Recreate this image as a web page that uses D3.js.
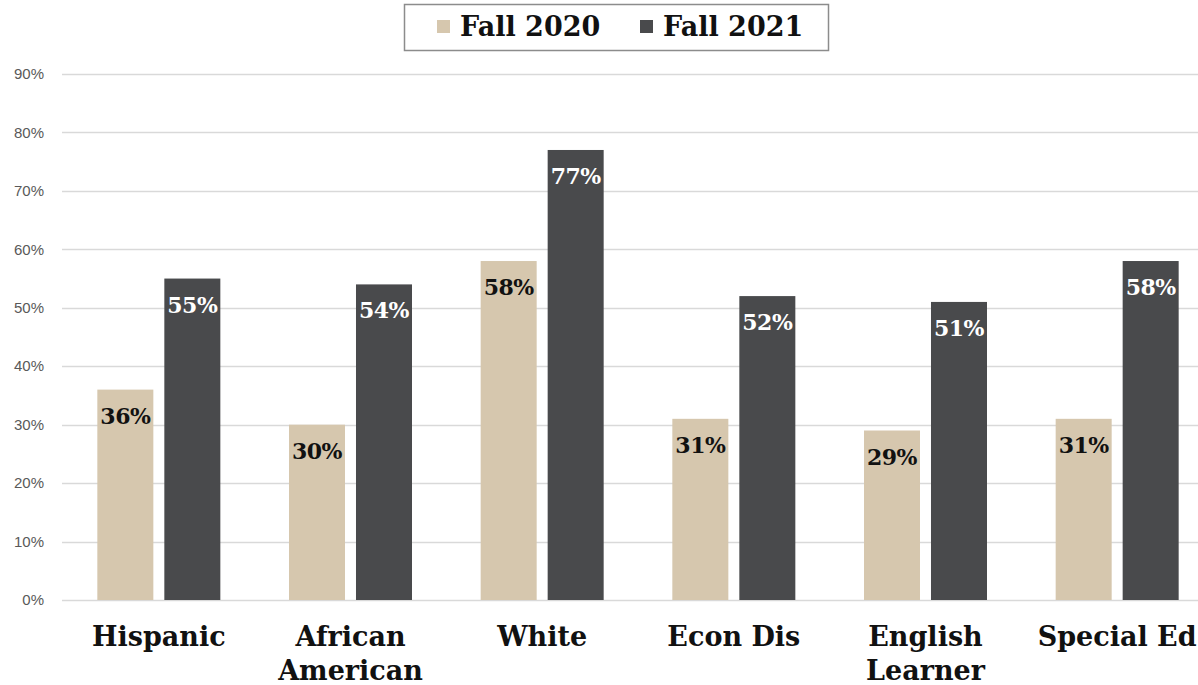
<!DOCTYPE html>
<html>
<head>
<meta charset="utf-8">
<script src="https://cdn.jsdelivr.net/npm/d3@7"></script>
<style>
  body { margin: 0; background: #fff; }
  svg { display: block; }
</style>
</head>
<body>
<svg id="chart" width="1198" height="685"></svg>
<script>
// data
const categories = ["Hispanic", "African American", "White", "Econ Dis", "English Learner", "Special Ed"];
const categoryLines = [["Hispanic"], ["African", "American"], ["White"], ["Econ Dis"], ["English", "Learner"], ["Special Ed"]];
const series = ["Fall 2020", "Fall 2021"];
const fall2020 = [36, 30, 58, 31, 29, 31];
const fall2021 = [55, 54, 77, 52, 51, 58];
const yTicks = [0, 10, 20, 30, 40, 50, 60, 70, 80, 90];

const colors = { "Fall 2020": "#d6c7ae", "Fall 2021": "#494a4c" };
const labelColors = { "Fall 2020": "#111", "Fall 2021": "#fff" };
const serif = "'DejaVu Serif', Georgia, serif";

const svg = d3.select("#chart");

const x0 = d3.scaleBand()
  .domain(categories)
  .range([63, 1213]);

const x1 = d3.scaleBand()
  .domain(series)
  .range([0, 123])
  .paddingInner(0.164);

const y = d3.scaleLinear()
  .domain([0, 90])
  .range([600, 74]);

const rows = categories.map((c, i) => ({
  cat: c,
  values: [
    { key: "Fall 2020", value: fall2020[i] },
    { key: "Fall 2021", value: fall2021[i] }
  ]
}));

// gridlines
svg.append("g")
  .selectAll("line")
  .data(yTicks)
  .enter()
  .append("line")
    .attr("x1", 62)
    .attr("x2", 1213)
    .attr("y1", d => Math.round(y(d)) + 0.5)
    .attr("y2", d => Math.round(y(d)) + 0.5)
    .attr("stroke", "#d9d9d9")
    .attr("stroke-width", 1.3);

// y axis labels
svg.append("g")
  .selectAll("text")
  .data(yTicks)
  .enter()
  .append("text")
    .attr("x", 44)
    .attr("y", d => y(d))
    .attr("dy", "0.35em")
    .attr("text-anchor", "end")
    .style("font-family", "'Liberation Sans', Arial, sans-serif")
    .style("font-size", "15px")
    .style("fill", "#595959")
    .text(d => d + "%");

// bars
const offset = (x0.bandwidth() - 123) / 2;
const groups = svg.append("g")
  .selectAll("g")
  .data(rows)
  .enter()
  .append("g")
    .attr("transform", d => `translate(${x0(d.cat) + offset},0)`);

groups.selectAll("rect")
  .data(d => d.values)
  .enter()
  .append("rect")
    .attr("x", d => x1(d.key))
    .attr("y", d => y(d.value))
    .attr("width", x1.bandwidth())
    .attr("height", d => y(0) - y(d.value))
    .attr("fill", d => colors[d.key]);

groups.selectAll("text")
  .data(d => d.values)
  .enter()
  .append("text")
    .attr("x", d => x1(d.key) + x1.bandwidth() / 2)
    .attr("y", d => y(d.value) + 34)
    .attr("text-anchor", "middle")
    .style("font-family", serif)
    .style("font-weight", "bold")
    .style("font-size", "22px")
    .style("letter-spacing", "-0.5px")
    .style("fill", d => labelColors[d.key])
    .text(d => d.value + "%");

// category labels
const catLabels = svg.append("g")
  .selectAll("text")
  .data(categories)
  .enter()
  .append("text")
    .attr("x", d => x0(d) + x0.bandwidth() / 2)
    .attr("y", 646)
    .attr("text-anchor", "middle")
    .style("font-family", serif)
    .style("font-weight", "bold")
    .style("font-size", "27px")
    .style("fill", "#111");

catLabels.selectAll("tspan")
  .data((d, i) => categoryLines[i])
  .enter()
  .append("tspan")
    .attr("x", function() { return d3.select(this.parentNode).attr("x"); })
    .attr("dy", (d, i) => i === 0 ? 0 : 34)
    .text(d => d);

// legend
const legend = svg.append("g");
legend.append("rect")
  .attr("x", 404.5)
  .attr("y", 4.5)
  .attr("width", 424)
  .attr("height", 46)
  .attr("fill", "#fff")
  .attr("stroke", "#8c8c8c")
  .attr("stroke-width", 1.5);

const legendX = [437, 640];
series.forEach((s, i) => {
  legend.append("rect")
    .attr("x", legendX[i])
    .attr("y", 20)
    .attr("width", 13)
    .attr("height", 13)
    .attr("fill", colors[s]);
  legend.append("text")
    .attr("x", legendX[i] + 23)
    .attr("y", 36)
    .style("font-family", serif)
    .style("font-weight", "bold")
    .style("font-size", "27px")
    .style("fill", "#111")
    .text(s);
});
</script>
</body>
</html>
